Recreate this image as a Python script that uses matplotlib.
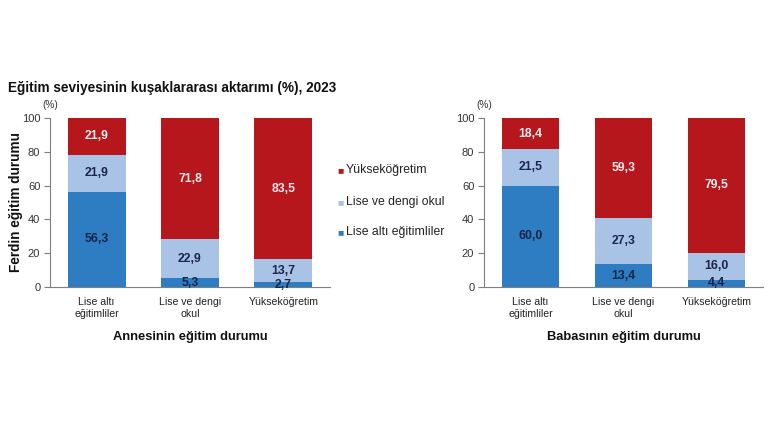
import matplotlib
matplotlib.use("Agg")
import matplotlib.pyplot as plt

plt.rcParams['font.family'] = ['Liberation Sans', 'DejaVu Sans']

categories = ["Lise altı\neğitimliler", "Lise ve dengi\nokul", "Yükseköğretim"]
series_names = ["Lise altı eğitimliler", "Lise ve dengi okul", "Yükseköğretim"]

mother_lise_alti = [56.3, 5.3, 2.7]
mother_lise = [21.9, 22.9, 13.7]
mother_yuksek = [21.9, 71.8, 83.5]

father_lise_alti = [60.0, 13.4, 4.4]
father_lise = [21.5, 27.3, 16.0]
father_yuksek = [18.4, 59.3, 79.5]

yticks = [0, 20, 40, 60, 80, 100]

title = "Eğitim seviyesinin kuşaklararası aktarımı (%), 2023"
ylabel = "Ferdin eğitim durumu"
xlabel_mother = "Annesinin eğitim durumu"
xlabel_father = "Babasının eğitim durumu"

c_blue = "#2E7CC1"
c_light = "#A9C3E7"
c_red = "#B5171D"
txt_dark = "#1A2547"
txt_light = "#FBECEC"
axis_col = "#7F7F7F"

fig = plt.figure(figsize=(7.7, 4.33), dpi=100)
fig.patch.set_facecolor("white")

ax1 = fig.add_axes([50/770, 146/433, 280/770, 169/433])
ax2 = fig.add_axes([484/770, 146/433, 279/770, 169/433])


def fmt(v):
    return f"{v:.1f}".replace(".", ",")


def draw(ax, s1, s2, s3, xlabel):
    x = list(range(len(categories)))
    w = 0.62
    ax.bar(x, s1, w, color=c_blue, linewidth=0)
    ax.bar(x, s2, w, bottom=s1, color=c_light, linewidth=0)
    bottom3 = [a + b for a, b in zip(s1, s2)]
    ax.bar(x, s3, w, bottom=bottom3, color=c_red, linewidth=0)
    for i in x:
        ax.text(i, s1[i] / 2, fmt(s1[i]), ha="center", va="center",
                fontsize=8.8, fontweight="bold", color=txt_dark)
        ax.text(i, s1[i] + s2[i] / 2, fmt(s2[i]), ha="center", va="center",
                fontsize=8.8, fontweight="bold", color=txt_dark)
        ax.text(i, bottom3[i] + s3[i] / 2, fmt(s3[i]), ha="center", va="center",
                fontsize=8.8, fontweight="bold", color=txt_light)
    ax.set_xlim(-0.5, 2.5)
    ax.set_ylim(0, 100)
    ax.set_yticks(yticks)
    ax.set_xticks(x)
    ax.set_xticklabels(categories, fontsize=7.6, color="#222222", linespacing=1.25)
    ax.tick_params(axis="x", length=0, pad=7)
    ax.tick_params(axis="y", direction="out", length=4, color=axis_col,
                   labelsize=8, labelcolor="#333333", pad=3)
    for s in ["top", "right"]:
        ax.spines[s].set_visible(False)
    for s in ["left", "bottom"]:
        ax.spines[s].set_color(axis_col)
        ax.spines[s].set_linewidth(0.8)
    ax.set_xlabel(xlabel, fontsize=9.3, fontweight="bold", color="#111111", labelpad=9)
    ax.text(-0.5, 104.5, "(%)", fontsize=7.2, color="#333333", ha="center", va="bottom")


draw(ax1, mother_lise_alti, mother_lise, mother_yuksek, xlabel_mother)
draw(ax2, father_lise_alti, father_lise, father_yuksek, xlabel_father)

ax1.set_ylabel(ylabel, fontsize=9.8, fontweight="bold", color="#111111", labelpad=0)
ax1.yaxis.set_label_coords(-27/280, 0.5)

fig.text(8/770, 1 - 88/433, title, fontsize=9.8, fontweight="bold",
         color="#111111", ha="left", va="center")

# legend
leg_items = [(series_names[2], c_red, 170), (series_names[1], c_light, 202),
             (series_names[0], c_blue, 232)]
for name, col, ypix in leg_items:
    fig.text(337/770, 1 - ypix/433, "\u25A0", fontsize=7.5, color=col,
             ha="left", va="center")
    fig.text(346/770, 1 - ypix/433, name, fontsize=8.8, color="#222222",
             ha="left", va="center")

fig.savefig("out.png", dpi=100, facecolor="white")
